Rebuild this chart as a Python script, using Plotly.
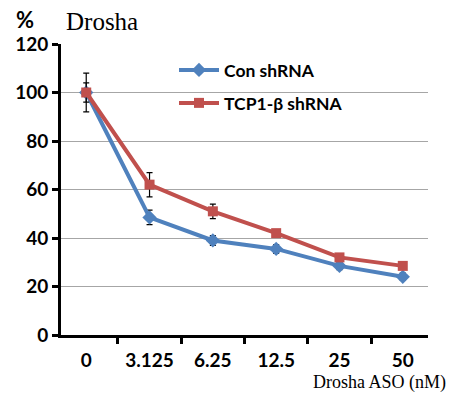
import plotly.graph_objects as go

categories = ["0", "3.125", "6.25", "12.5", "25", "50"]
con_vals = [100, 48.5, 39, 35.5, 28.5, 24]
con_err = [8, 3, 2, 1.8, 1.5, 1.5]
tcp_vals = [100, 62, 51, 42, 32, 28.5]
tcp_err = [4, 5, 3, 1, 1, 1]

blue = "#4F81BD"
red = "#C0504D"

fig = go.Figure()
fig.add_trace(go.Scatter(
    x=categories, y=con_vals, name="Con shRNA", mode="lines+markers",
    line=dict(color=blue, width=4),
    marker=dict(symbol="diamond", size=11, color=blue),
    error_y=dict(type="data", array=con_err, color="black", thickness=1.2, width=3),
    legend="legend", showlegend=True,
))
fig.add_trace(go.Scatter(
    x=categories, y=tcp_vals, name="TCP1-β shRNA", mode="lines+markers",
    line=dict(color=red, width=4),
    marker=dict(symbol="square", size=10, color=red),
    error_y=dict(type="data", array=tcp_err, color="black", thickness=1.2, width=3),
    legend="legend2", showlegend=True,
))

tickfont = dict(family="Lato, Open Sans, sans-serif", size=19, color="black", weight="bold")
legfont = dict(family="Lato, Open Sans, sans-serif", size=17.5, color="black", weight="bold")

pw = 451 - 61 - 23
ph = 394 - 44 - 59
def px(xp):
    return (xp - 61) / pw
def py(yp):
    return (394 - 59 - yp) / ph

fig.update_layout(
    width=451, height=394,
    showlegend=True,
    margin=dict(l=61, r=23, t=44, b=59),
    paper_bgcolor="white", plot_bgcolor="white",
    xaxis=dict(
        type="category", showline=True, linecolor="black", linewidth=3,
        ticks="outside", tickson="boundaries", ticklen=6, tickwidth=3, tickcolor="black",
        tickfont=tickfont, showgrid=False, zeroline=False, ticklabelstandoff=6,
    ),
    yaxis=dict(
        range=[0, 120], dtick=20, showline=True, linecolor="black", linewidth=3,
        ticks="outside", ticklen=6, tickwidth=3, tickcolor="black",
        tickfont=tickfont, showgrid=True, gridcolor="#A6A6A6", gridwidth=1,
        zeroline=False,
    ),
    legend=dict(x=px(174), y=py(70), xanchor="left", yanchor="middle",
                bgcolor="rgba(0,0,0,0)", font=legfont, itemwidth=40),
    legend2=dict(x=px(174), y=py(103), xanchor="left", yanchor="middle",
                 bgcolor="rgba(0,0,0,0)", font=legfont, itemwidth=40),
    annotations=[
        dict(text="<b>%</b>", xref="paper", yref="paper", x=px(25), y=py(19),
             xanchor="center", yanchor="middle", showarrow=False,
             font=dict(family="Lato, sans-serif", size=22, color="black")),
        dict(text="Drosha", xref="paper", yref="paper", x=px(64), y=py(21),
             xanchor="left", yanchor="middle", showarrow=False,
             font=dict(family="Liberation Serif, Times New Roman, serif", size=25, color="black")),
        dict(text="Drosha ASO (nM)", xref="paper", yref="paper", x=px(448), y=py(382),
             xanchor="right", yanchor="middle", showarrow=False,
             font=dict(family="Liberation Serif, Times New Roman, serif", size=18, color="black")),
    ],
)

fig.write_html("out.html")
